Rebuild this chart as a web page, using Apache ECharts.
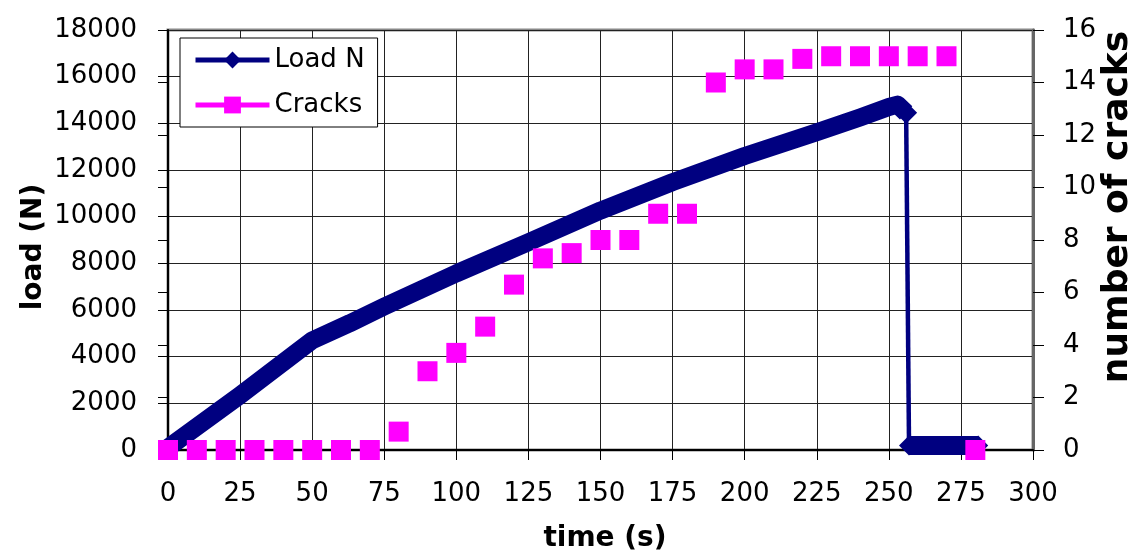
<!DOCTYPE html>
<html><head><meta charset="utf-8">
<script src="https://cdn.jsdelivr.net/npm/echarts@6/dist/echarts.min.js"></script>
<style>html,body{margin:0;padding:0;background:#fff}#c{width:1133px;height:554px}</style>
</head><body><div id="c"></div>
<script>
// ---- data ----
const loadTime  = [0, 25, 50, 63, 75, 100, 125, 150, 175, 200, 225, 240, 250, 253, 256];
const loadValue = [100, 2350, 4700, 5430, 6150, 7570, 8900, 10260, 11480, 12600, 13620, 14250, 14700, 14800, 14450];
const dropTime  = [256, 257];
const dropValue = [14450, 190];
const residualTime  = [257, 281];
const residualValue = [190, 190];
const crackTime  = [0, 10, 20, 30, 40, 50, 60, 70, 80, 90, 100, 110, 120, 130, 140, 150, 160, 170, 180, 190, 200, 210, 220, 230, 240, 250, 260, 270, 280];
const crackCount = [0, 0, 0, 0, 0, 0, 0, 0, 0.7, 3, 3.7, 4.7, 6.3, 7.3, 7.5, 8, 8, 9, 9, 14, 14.5, 14.5, 14.9, 15, 15, 15, 15, 15, 0];
const xTicks = {min: 0, max: 300, step: 25};
const loadTicks = {min: 0, max: 18000, step: 2000};
const crackTicks = {min: 0, max: 16, step: 2};

const zip = (a, b) => a.map((v, i) => [v, b[i]]);
const navy = '#000080', magenta = '#FF00FF';
const FONT = 'DejaVu Sans';
const plain = v => String(v);
const lbl = {fontFamily: FONT, fontSize: 26, color: '#000', formatter: plain};

const chart = echarts.init(document.getElementById('c'), null, {renderer: 'canvas'});
chart.setOption({
  animation: false,
  backgroundColor: '#fff',
  grid: {left: 168, right: 100, top: 30, bottom: 104, show: true, borderColor: '#888', borderWidth: 3, backgroundColor: 'transparent'},
  legend: {
    orient: 'vertical', left: 180, top: 38,
    padding: [7, 13, 7, 13], itemGap: 15, itemWidth: 74, itemHeight: 21,
    backgroundColor: '#fff', borderColor: '#000', borderWidth: 1,
    textStyle: {fontFamily: FONT, fontSize: 26, lineHeight: 30, color: '#000'},
    data: [
      {name: 'Load N', itemStyle: {color: navy}, lineStyle: {color: navy, width: 5, opacity: 1}},
      {name: 'Cracks', itemStyle: {color: magenta}, lineStyle: {color: magenta, width: 5, opacity: 1}}
    ]
  },
  xAxis: {
    type: 'value', min: xTicks.min, max: xTicks.max, interval: xTicks.step,
    axisLine: {onZero: false, lineStyle: {color: '#000', width: 2}},
    axisTick: {show: true, length: 10, lineStyle: {color: '#000', width: 1}},
    axisLabel: Object.assign({margin: 31, showMinLabel: true, showMaxLabel: true}, lbl),
    splitLine: {show: true, lineStyle: {color: '#222', width: 1}}
  },
  yAxis: [
    {
      type: 'value', position: 'left', min: loadTicks.min, max: loadTicks.max, interval: loadTicks.step,
      axisLine: {show: true, onZero: false, lineStyle: {color: '#000', width: 2}},
      axisTick: {show: true, length: 10, lineStyle: {color: '#000', width: 1}},
      axisLabel: Object.assign({margin: 31, showMinLabel: true, showMaxLabel: true}, lbl),
      splitLine: {show: true, lineStyle: {color: '#222', width: 1}}
    },
    {
      type: 'value', position: 'right', min: crackTicks.min, max: crackTicks.max, interval: crackTicks.step,
      axisLine: {show: true, onZero: false, lineStyle: {color: '#666', width: 3}},
      axisTick: {show: true, length: 11, lineStyle: {color: '#000', width: 1}},
      axisLabel: Object.assign({margin: 30, showMinLabel: true, showMaxLabel: true}, lbl),
      splitLine: {show: false}
    },
    {
      type: 'value', position: 'right', min: crackTicks.min, max: crackTicks.max, interval: crackTicks.step,
      axisLine: {show: false},
      axisTick: {show: true, inside: true, length: 10, lineStyle: {color: '#000', width: 1}},
      axisLabel: {show: false},
      splitLine: {show: false}
    }
  ],
  graphic: [
    {type: 'text', x: 34, y: 247, rotation: Math.PI / 2, style: {text: 'load (N)', font: 'bold 28px "DejaVu Sans"', fill: '#000', align: 'center', verticalAlign: 'middle', textAlign: 'center', textVerticalAlign: 'middle'}},
    {type: 'text', x: 1118, y: 207, rotation: Math.PI / 2, style: {text: 'number of cracks', font: 'bold 36px "DejaVu Sans"', fill: '#000', align: 'center', verticalAlign: 'middle', textAlign: 'center', textVerticalAlign: 'middle'}},
    {type: 'text', x: 605, y: 539, style: {text: 'time (s)', font: 'bold 28px "DejaVu Sans"', fill: '#000', align: 'center', verticalAlign: 'middle', textAlign: 'center', textVerticalAlign: 'middle'}}
  ],
  series: [
    {
      name: 'Load N', type: 'line', yAxisIndex: 0, data: zip(loadTime, loadValue), clip: false,
      symbol: 'diamond', showAllSymbol: true,
      symbolSize: (v, p) => (p.dataIndex === loadTime.length - 1 ? [22, 22] : 0),
      itemStyle: {color: navy}, lineStyle: {color: navy, width: 18, join: 'round'}, z: 3
    },
    {
      name: 'Load N', type: 'line', yAxisIndex: 0, data: zip(dropTime, dropValue), clip: false,
      symbol: 'none', itemStyle: {color: navy}, lineStyle: {color: navy, width: 4.5}, z: 3
    },
    {
      name: 'Load N', type: 'line', yAxisIndex: 0, data: zip(residualTime, residualValue), clip: false,
      symbol: 'diamond', symbolSize: [20, 20], showAllSymbol: true,
      itemStyle: {color: navy}, lineStyle: {color: navy, width: 19}, z: 3
    },
    {
      name: 'Cracks', type: 'line', yAxisIndex: 1, data: zip(crackTime, crackCount), clip: false,
      symbol: 'rect', symbolSize: 20, showAllSymbol: true,
      itemStyle: {color: magenta}, lineStyle: {width: 0, opacity: 0}, z: 4
    }
  ]
});
</script></body></html>
